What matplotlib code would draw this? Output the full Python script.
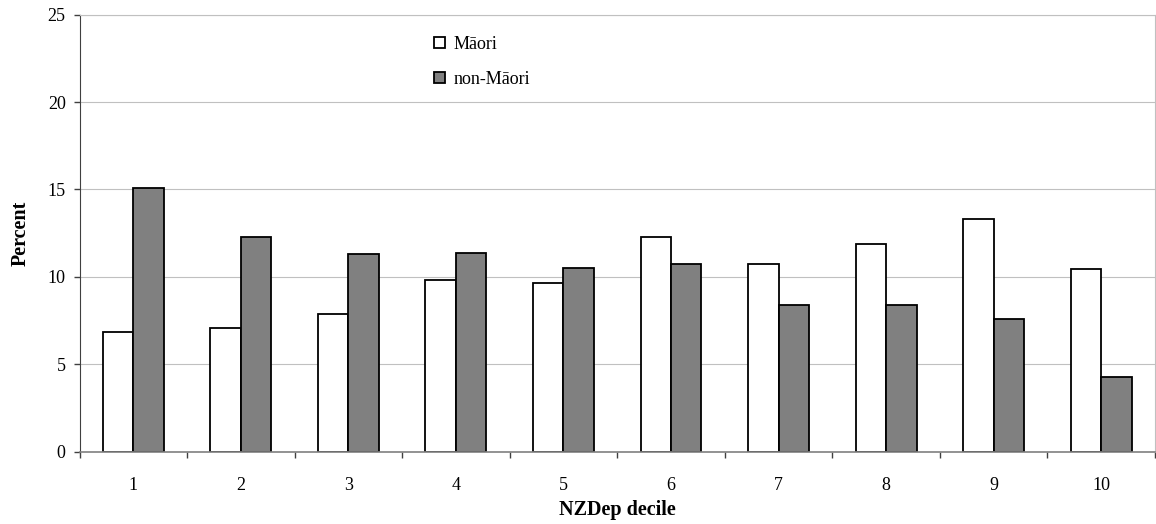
import numpy as np
import matplotlib
matplotlib.use('Agg')
import matplotlib.pyplot as plt

plt.rcParams['font.family'] = ['Liberation Serif', 'DejaVu Serif']

deciles = [1, 2, 3, 4, 5, 6, 7, 8, 9, 10]
maori = [6.86, 7.06, 7.88, 9.82, 9.63, 12.30, 10.74, 11.88, 13.33, 10.43]
non_maori = [15.07, 12.30, 11.29, 11.35, 10.53, 10.74, 8.39, 8.39, 7.57, 4.29]
yticks = [0, 5, 10, 15, 20, 25]

fig = plt.figure(figsize=(11.56, 5.24), dpi=100)
ax = fig.add_axes([0.0688, 0.138, 0.9303, 0.834])

x = np.array(deciles)
w = 0.283
ax.bar(x - w / 2, maori, width=w, color='white', edgecolor='black',
       linewidth=1.3, label='Māori', zorder=3)
ax.bar(x + w / 2, non_maori, width=w, color='#808080', edgecolor='black',
       linewidth=1.3, label='non-Māori', zorder=3)

ax.set_xlim(0.5, 10.5)
ax.set_ylim(0, 25)
ax.set_yticks(yticks)
ax.set_xticks(x)
ax.set_xticks(np.arange(0.5, 11, 1), minor=True)
ax.tick_params(axis='x', which='major', length=0, pad=18, labelsize=13)
ax.tick_params(axis='x', which='minor', length=4, width=1, color='#404040',
               direction='out')
ax.tick_params(axis='y', length=4, width=1, color='#404040', pad=6,
               labelsize=13)

ax.grid(axis='y', color='#c0c0c0', linewidth=0.8, zorder=0)
ax.set_axisbelow(True)
for s in ['top', 'right']:
    ax.spines[s].set_color('#c0c0c0')
    ax.spines[s].set_linewidth(0.8)
ax.spines['left'].set_color('#404040')
ax.spines['bottom'].set_color('#808080')
ax.spines['bottom'].set_linewidth(1.2)
ax.spines['bottom'].set_zorder(4)

ax.set_xlabel('NZDep decile', fontsize=14.5, fontweight='bold')
ax.xaxis.set_label_coords(0.5, -0.133)
ax.xaxis.label.set_verticalalignment('center')
ax.set_ylabel('Percent', fontsize=14.5, fontweight='bold')
ax.yaxis.set_label_coords(-0.055, 0.5)
ax.yaxis.label.set_verticalalignment('center')

leg = ax.legend(loc='upper left', bbox_to_anchor=(0.3296, 0.952),
                frameon=False, fontsize=13, handlelength=0.6,
                handleheight=0.6, handletextpad=0.5, labelspacing=1.0,
                borderpad=0, borderaxespad=0)

fig.savefig('out.png', dpi=100)
